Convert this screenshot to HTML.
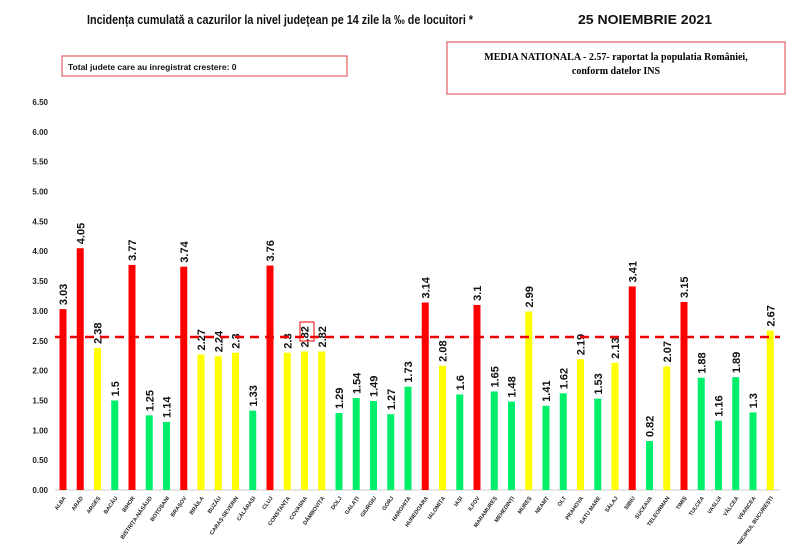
<!DOCTYPE html>
<html><head><meta charset="utf-8"><style>body{margin:0;background:#fff}svg{display:block}</style></head><body>
<svg width="800" height="544" xmlns="http://www.w3.org/2000/svg" font-family="Liberation Sans, sans-serif">
<text x="87" y="24" font-size="13" font-weight="bold" fill="#111" textLength="386" lengthAdjust="spacingAndGlyphs">Incidența cumulată a cazurilor la nivel județean pe 14 zile la ‰ de locuitori *</text>
<text x="578" y="24" font-size="13" font-weight="bold" fill="#111" textLength="134" lengthAdjust="spacingAndGlyphs">25 NOIEMBRIE 2021</text>
<rect x="62" y="56" width="285" height="20" fill="none" stroke="#e06060" stroke-width="1.2"/>
<text x="68" y="70" font-size="8.5" font-weight="bold" fill="#111">Total judete care au inregistrat crestere: 0</text>
<rect x="447" y="42" width="338" height="52" fill="none" stroke="#e06060" stroke-width="1.2"/>
<text x="616" y="60" font-size="10" font-weight="bold" text-anchor="middle" font-family="Liberation Serif, serif">MEDIA NATIONALA - 2.57-  raportat la populatia României,</text>
<text x="616" y="74" font-size="10" font-weight="bold" text-anchor="middle" font-family="Liberation Serif, serif">conform datelor INS</text>
<g font-size="8" font-weight="bold" fill="#222" text-anchor="end" id="yl"></g>
<line x1="55" y1="490" x2="780" y2="490" stroke="#ddd" stroke-width="1.5"/>
<g id="bars"></g>
<line x1="55" y1="337" x2="780" y2="337" stroke="#e00" stroke-width="2.5" stroke-dasharray="9,6"/>
<rect x="300" y="322" width="14" height="19" fill="none" stroke="#e00" stroke-width="1"/>
</svg>
<script>
var ns="http://www.w3.org/2000/svg";
var yl=document.getElementById("yl");
for(var i=0;i<=13;i++){var v=i*0.5;var t=document.createElementNS(ns,"text");t.setAttribute("x",48);t.setAttribute("y",490-v*59.7+3);t.textContent=v.toFixed(2);yl.appendChild(t);}
var d=[["ALBA",3.03,"r"],["ARAD",4.05,"r"],["ARGEȘ",2.38,"y"],["BACĂU",1.5,"g"],["BIHOR",3.77,"r"],["BISTRIȚA-NĂSĂUD",1.25,"g"],["BOTOȘANI",1.14,"g"],["BRAȘOV",3.74,"r"],["BRĂILA",2.27,"y"],["BUZĂU",2.24,"y"],["CARAȘ-SEVERIN",2.3,"y"],["CĂLĂRAȘI",1.33,"g"],["CLUJ",3.76,"r"],["CONSTANȚA",2.3,"y"],["COVASNA",2.32,"y"],["DÂMBOVIȚA",2.32,"y"],["DOLJ",1.29,"g"],["GALAȚI",1.54,"g"],["GIURGIU",1.49,"g"],["GORJ",1.27,"g"],["HARGHITA",1.73,"g"],["HUNEDOARA",3.14,"r"],["IALOMIȚA",2.08,"y"],["IAȘI",1.6,"g"],["ILFOV",3.1,"r"],["MARAMUREȘ",1.65,"g"],["MEHEDINȚI",1.48,"g"],["MUREȘ",2.99,"y"],["NEAMȚ",1.41,"g"],["OLT",1.62,"g"],["PRAHOVA",2.19,"y"],["SATU MARE",1.53,"g"],["SĂLAJ",2.13,"y"],["SIBIU",3.41,"r"],["SUCEAVA",0.82,"g"],["TELEORMAN",2.07,"y"],["TIMIȘ",3.15,"r"],["TULCEA",1.88,"g"],["VASLUI",1.16,"g"],["VÂLCEA",1.89,"g"],["VRANCEA",1.3,"g"],["MUNICIPIUL BUCUREȘTI",2.67,"y"]];
var lbl=["3.03","4.05","2.38","1.5","3.77","1.25","1.14","3.74","2.27","2.24","2.3","1.33","3.76","2.3","2.82","2.82","1.29","1.54","1.49","1.27","1.73","3.14","2.08","1.6","3.1","1.65","1.48","2.99","1.41","1.62","2.19","1.53","2.13","3.41","0.82","2.07","3.15","1.88","1.16","1.89","1.3","2.67"];
var col={r:"#ff0000",y:"#ffff00",g:"#00ee6a"};
var g=document.getElementById("bars");
d.forEach(function(b,i){var x=63+i*17.25;var h=b[1]*59.7;
var r=document.createElementNS(ns,"rect");r.setAttribute("x",x-3.5);r.setAttribute("y",490-h);r.setAttribute("width",7);r.setAttribute("height",h);r.setAttribute("fill",col[b[2]]);g.appendChild(r);
var t=document.createElementNS(ns,"text");t.setAttribute("transform","translate("+(x+4)+","+(486-h)+") rotate(-90)");t.setAttribute("font-size","11");t.setAttribute("font-weight","bold");t.setAttribute("fill","#111");t.textContent=lbl[i];g.appendChild(t);
var n=document.createElementNS(ns,"text");n.setAttribute("transform","translate("+(x+3)+",498) rotate(-55)");n.setAttribute("font-size","5.5");n.setAttribute("font-weight","bold");n.setAttribute("text-anchor","end");n.setAttribute("fill","#222");n.textContent=b[0];g.appendChild(n);});
</script>
</body></html>
